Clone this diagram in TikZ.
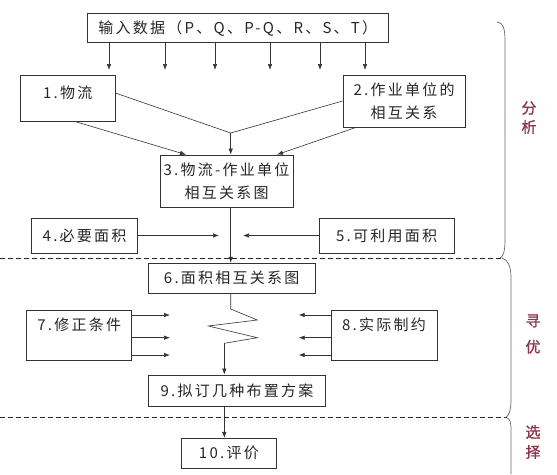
\documentclass[tikz,border=0pt]{standalone}
\usepackage{fontspec}
\usepackage{xcolor}
\usetikzlibrary{arrows.meta}
\newfontfamily\cjk[LetterSpace=15]{Noto Sans CJK SC}
\newfontfamily\cjksec[LetterSpace=5,FakeBold=1.2]{Noto Sans CJK SC}
\definecolor{secred}{RGB}{140,55,75}

\tikzset{
  box/.style={draw=black!80, line width=0.8pt, inner sep=0pt, align=center,
    font=\cjk\fontsize{15}{23}\selectfont, text=black!85},
  lbl/.style={font=\cjk\fontsize{15}{23}\selectfont, text=black!85},
  link/.style={line width=0.6pt, draw=black!80},
  sect/.style={font=\cjksec\fontsize{15}{19}\selectfont, text=secred, align=center},
  brace/.style={line width=0.7pt, draw=black!60},
  cut/.style={line width=1pt, draw=black!85, dash pattern=on 5pt off 3pt}
}

\begin{document}
\begin{tikzpicture}[x=1pt, y=-1pt, >={Latex[length=6pt,width=4.5pt]}]
\useasboundingbox (0,0) rectangle (557,474);
% boxes
\node[box, minimum width=300.4, minimum height=29.4] (in) at (237.8,28) {输入数据（P、Q、P-Q、R、S、T）};
\node[box, minimum width=94.6, minimum height=46, label={[lbl,yshift=5pt]center:1.物流}] (b1) at (67.7,98) {};
\node[box, minimum width=122, minimum height=52] (b2) at (404,101) {2.作业单位的\\相互关系};
\node[box, minimum width=133, minimum height=52] (b3) at (226.5,181) {3.物流-作业单位\\相互关系图};
\node[box, minimum width=106.2, minimum height=35] (b4) at (84.6,235.5) {4.必要面积};
\node[box, minimum width=135, minimum height=35] (b5) at (386.5,235.5) {5.可利用面积};
\node[box, minimum width=166.6, minimum height=30] (b6) at (231.7,278.3) {6.面积相互关系图};
\node[box, minimum width=104.8, minimum height=50, label={[lbl,yshift=10pt]center:7.修正条件}] (b7) at (79.2,335) {};
\node[box, minimum width=106, minimum height=50, label={[lbl,yshift=10pt]center:8.实际制约}] (b8) at (384,335) {};
\node[box, minimum width=177, minimum height=31] (b9) at (237,390.5) {9.拟订几种布置方案};
\node[box, minimum width=94.3, minimum height=30] (b10) at (228.9,453.3) {10.评价};

% input arrows
\foreach \x [count=\i] in {109,165,215,270,320,365}
{	\coordinate (t\i) at (\x,70);
	\draw[link, ->] (in.south -| t\i) -- (t\i);
}

% towards box 3
\coordinate (j) at (230.7,133);
\draw[link] ([yshift=5pt]b1.east) -- (j);
\draw[link] (b2.west) -- (j);
\draw[link, ->] (j) -- (j |- b3.north);
\draw[link, ->] ([xshift=7pt]b1.south) -- ([xshift=-40.5pt]b3.north);
\draw[link, ->] ([xshift=-48pt]b2.south) -- ([xshift=50.5pt]b3.north);
\draw[link, ->] (j |- b3.south) -- (j |- b6.north);

% boxes 4 and 5
\coordinate (a4) at (219,235.5);
\coordinate (a5) at (243,235.5);
\draw[link, ->] (b4.east) -- (a4);
\draw[link, ->] (b5.west) -- (a5);

% zigzag
\coordinate (z) at (224.3,343.3);
\draw[link] (j |- b6.south) -- (230.7,309) -- (257.3,320) -- (208.3,326) -- (257.3,337.7) -- (z);
\draw[link, ->] (z) -- (z |- b9.north);
\draw[link, ->] (z |- b9.south) -- (z |- b10.north);

% boxes 7 and 8
\foreach \y [count=\i] in {315,337.7,355}
{	\coordinate (l\i) at (170,\y);
	\coordinate (r\i) at (298.7,\y);
	\draw[link, ->] (b7.east |- l\i) -- (l\i);
	\draw[link, ->] (b8.west |- r\i) -- (r\i);
}

% dashed cuts
\draw[cut] (0,258.3) -- (502,258.3);
\draw[cut] (0,417.7) -- (507,417.7);

% right braces
\draw[brace] (497,22) .. controls (504,23) and (505,30) .. (505,42) -- (505,240) .. controls (505,252) and (503,257) .. (500,258);
\draw[brace] (502,258) .. controls (508,260) and (511,266) .. (511,278) -- (511,400) .. controls (511,410) and (509,416) .. (505,418);
\draw[brace] (507,418) .. controls (510,419) and (511,422) .. (511,430) -- (511,474);

% section labels
\node[sect] (s1) at (529,117.5) {分\\析};
\node[sect] (s2) at (533,334) {寻\\[7pt]优};
\node[sect] (s3) at (533,442) {选\\[1pt]择};
\end{tikzpicture}
\end{document}
